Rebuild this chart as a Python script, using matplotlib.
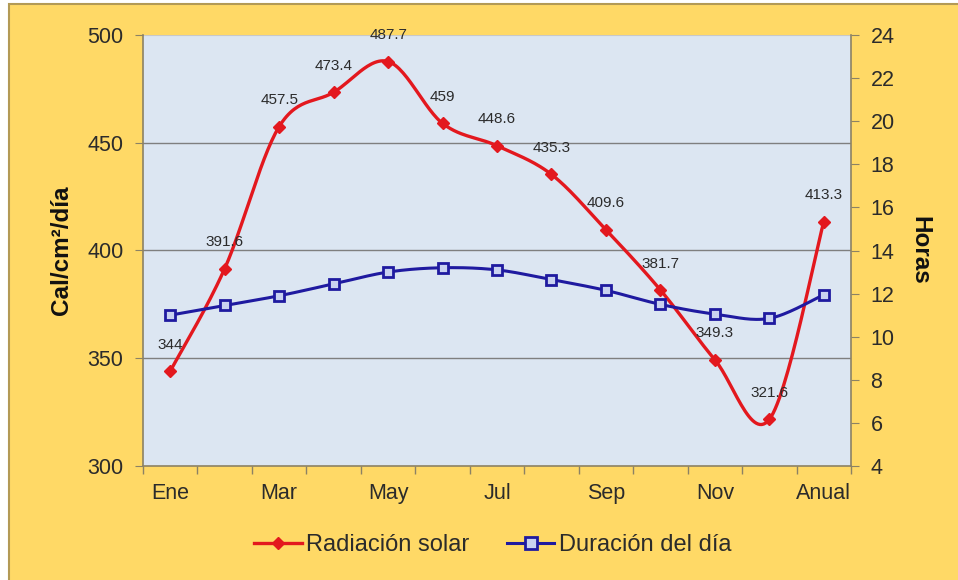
import numpy as np
import matplotlib
matplotlib.use("Agg")
import matplotlib.pyplot as plt
from matplotlib.patches import Rectangle
from matplotlib.lines import Line2D

plt.rcParams['font.family'] = ['Liberation Sans', 'DejaVu Sans']

categories = ["Ene", "Feb", "Mar", "Abr", "May", "Jun", "Jul", "Ago", "Sep", "Oct", "Nov", "Dic", "Anual"]
radiacion = [344, 391.6, 457.5, 473.4, 487.7, 459, 448.6, 435.3, 409.6, 381.7, 349.3, 321.6, 413.3]
duracion = [11.0, 11.45, 11.9, 12.45, 13.0, 13.2, 13.1, 12.65, 12.15, 11.5, 11.05, 10.85, 11.95]
shown_labels = ["Ene", "", "Mar", "", "May", "", "Jul", "", "Sep", "", "Nov", "", "Anual"]


def smooth(xs, ys, n=30):
    xs = np.asarray(xs, float)
    ys = np.asarray(ys, float)
    P = np.column_stack([xs, ys])
    out = []
    m = len(P)
    for i in range(m - 1):
        p0 = P[i - 1] if i > 0 else P[i]
        p1 = P[i]
        p2 = P[i + 1]
        p3 = P[i + 2] if i + 2 < m else P[i + 1]
        c1 = p1 + (p2 - p0) / 6.0
        c2 = p2 - (p3 - p1) / 6.0
        t = np.linspace(0, 1, n)[:, None]
        seg = ((1 - t) ** 3) * p1 + 3 * ((1 - t) ** 2) * t * c1 + 3 * (1 - t) * t ** 2 * c2 + t ** 3 * p2
        if i > 0:
            seg = seg[1:]
        out.append(seg)
    out = np.vstack(out)
    return out[:, 0], out[:, 1]


W, H = 958, 580
fig = plt.figure(figsize=(W / 100, H / 100), dpi=100)
fig.patch.set_facecolor("white")
bg = Rectangle((9 / W, -0.05), 1.1, 1 - 4 / H + 0.05, transform=fig.transFigure,
               facecolor="#FFD966", edgecolor="#B39A55", linewidth=1.5, zorder=-10)
fig.patches.append(bg)

ax = fig.add_axes([143 / W, 1 - 466 / H, (851 - 143) / W, (466 - 35) / H])
ax.set_facecolor("#DCE6F2")
ax2 = ax.twinx()

x = np.arange(len(categories))
axis_col = "#8C8264"
txt_col = "#2B2B2B"

# grid
for v in [350, 400, 450]:
    ax.axhline(v, color="#7F7F7F", lw=1.0, zorder=1)
ax.axhline(500, color="#C8C8C8", lw=0.8, zorder=1)

# red smoothed line
sx, sy = smooth(x, radiacion)
ax.plot(sx, sy, color="#E3181E", lw=2.4, zorder=3, solid_capstyle="round")
ax.plot(x, radiacion, linestyle="none", marker="D", markersize=6.5, color="#E3181E", zorder=4)
for xi, v in zip(x, radiacion):
    lab = ("%g" % v)
    ax.annotate(lab, (xi, v), xytext=(0, 19), textcoords="offset points", ha="center", va="center",
                fontsize=11, color=txt_col, zorder=5)

# blue smoothed line
bx, by = smooth(x, duracion)
ax2.plot(bx, by, color="#1F1AA0", lw=2.2, zorder=3)
ax2.plot(x, duracion, linestyle="none", marker="s", markersize=7.5, markerfacecolor="#C9D2F0",
         markeredgecolor="#1F1AA0", markeredgewidth=2, zorder=4)

ax.set_xlim(-0.5, len(categories) - 0.5)
ax.set_ylim(300, 500)
ax2.set_ylim(4, 24)
ax.set_yticks([300, 350, 400, 450, 500])
ax2.set_yticks(list(range(4, 25, 2)))

ax.set_xticks(x)
ax.set_xticklabels(shown_labels)
ax.set_xticks(np.arange(-0.5, len(categories), 1.0), minor=True)
ax.tick_params(axis="x", which="major", length=0, pad=12, labelsize=15.5, labelcolor=txt_col)
ax.tick_params(axis="x", which="minor", length=6, direction="out", color=axis_col, width=1)
ax.tick_params(axis="y", length=6, direction="out", color=axis_col, labelsize=15.5, labelcolor=txt_col, pad=8)
ax2.tick_params(axis="y", length=6, direction="out", color=axis_col, labelsize=15.5, labelcolor=txt_col, pad=8)

for a in (ax, ax2):
    a.spines["top"].set_visible(False)
    for s in ("left", "right", "bottom"):
        a.spines[s].set_color(axis_col)
        a.spines[s].set_linewidth(1.2)
ax.spines["right"].set_visible(False)
ax2.spines["left"].set_visible(False)
ax2.spines["bottom"].set_visible(False)

fig.text(62 / W, 1 - 250 / H, "Cal/cm²/día", rotation=90, ha="center", va="center",
         fontsize=17.5, fontweight="bold", color="#111111")
fig.text(920 / W, 1 - 250 / H, "Horas", rotation=-90, ha="center", va="center",
         fontsize=17.5, fontweight="bold", color="#111111")

handles = [
    Line2D([], [], color="#E3181E", lw=2.4, marker="D", markersize=6.5),
    Line2D([], [], color="#1F1AA0", lw=2.2, marker="s", markersize=8, markerfacecolor="#C9D2F0",
           markeredgecolor="#1F1AA0", markeredgewidth=2),
]
leg = fig.legend(handles, ["Radiación solar", "Duración del día"], loc="center",
                 bbox_to_anchor=(493 / W, 1 - 545 / H), ncol=2, frameon=False, fontsize=17,
                 handlelength=2.0, handletextpad=0.2, columnspacing=1.6)
for t in leg.get_texts():
    t.set_color(txt_col)

fig.savefig("out.png", dpi=100, facecolor=fig.get_facecolor())
